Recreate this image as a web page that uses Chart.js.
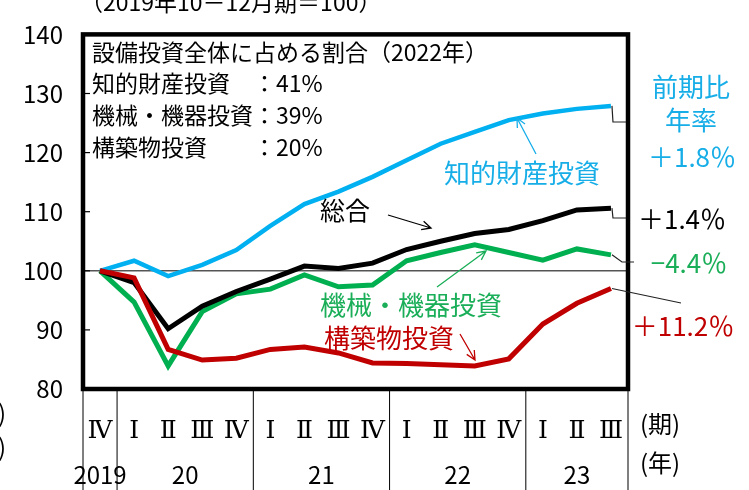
<!DOCTYPE html>
<html lang="ja">
  <head>
    <meta charset="UTF-8" />
    <title>設備投資</title>
    <script src="https://cdn.jsdelivr.net/npm/chart.js"></script>
    <style>
      html, body { margin: 0; padding: 0; background: #fff; }
      #wrap { width: 749px; height: 490px; }
    </style>
  </head>
  <body>
    <div id="wrap">
      <canvas id="capexChart" width="749" height="490"></canvas>
    </div>
    <script>
      // 2019 IV .. 2023 III, index 2019 Q4 = 100
      const quarters = ["Ⅳ", "Ⅰ", "Ⅱ", "Ⅲ", "Ⅳ", "Ⅰ", "Ⅱ", "Ⅲ", "Ⅳ", "Ⅰ", "Ⅱ", "Ⅲ", "Ⅳ", "Ⅰ", "Ⅱ", "Ⅲ"];
      const years = ["2019", "20", "21", "22", "23"];
      const yearQuarterCount = [1, 4, 4, 4, 3];
      const yTicks = [80, 90, 100, 110, 120, 130, 140];

      const intellectual = [100, 101.7, 99.1, 101.0, 103.5, 107.6, 111.3, 113.4, 115.9, 118.7, 121.5, 123.5, 125.5, 126.6, 127.4, 127.9];
      const total = [100, 98.0, 90.2, 94.0, 96.5, 98.6, 100.8, 100.4, 101.3, 103.6, 105.0, 106.3, 107.0, 108.5, 110.3, 110.6];
      const machinery = [100, 94.7, 83.9, 93.1, 96.1, 96.9, 99.3, 97.3, 97.6, 101.7, 103.1, 104.4, 103.1, 101.8, 103.7, 102.7];
      const structures = [100, 98.8, 86.7, 84.9, 85.2, 86.7, 87.1, 86.1, 84.4, 84.3, 84.1, 83.9, 85.1, 91.0, 94.5, 97.0];

      const JP = "'Noto Sans CJK JP', 'Noto Sans', sans-serif";
      const ROMAN = "'DejaVu Serif', 'Liberation Serif', serif";
      const BLUE = "#00b0f0";
      const BLUE_TXT = "#17aee8";
      const GREEN = "#00b050";
      const GREEN_TXT = "#1aae58";
      const RED = "#c00000";

      function arrow(ctx, x1, y1, x2, y2, color) {
        const a = Math.atan2(y2 - y1, x2 - x1);
        const len = 10, spread = 0.45;
        ctx.save();
        ctx.strokeStyle = color;
        ctx.lineWidth = 1.3;
        ctx.beginPath();
        ctx.moveTo(x1, y1);
        ctx.lineTo(x2, y2);
        ctx.moveTo(x2 - len * Math.cos(a - spread), y2 - len * Math.sin(a - spread));
        ctx.lineTo(x2, y2);
        ctx.lineTo(x2 - len * Math.cos(a + spread), y2 - len * Math.sin(a + spread));
        ctx.stroke();
        ctx.restore();
      }

      function text(ctx, str, x, y, size, color, align) {
        ctx.font = size + "px " + JP;
        ctx.fillStyle = color;
        ctx.textAlign = align || "left";
        ctx.textBaseline = "middle";
        ctx.fillText(str, x, y);
      }

      const decorations = {
        id: "decorations",
        afterDatasetsDraw(chart) {
          const ctx = chart.ctx;
          const area = chart.chartArea;
          const xs = chart.scales.x;
          const ys = chart.scales.y;
          const half = (xs.getPixelForValue(1) - xs.getPixelForValue(0)) / 2;

          ctx.save();
          // inner y ticks
          ctx.strokeStyle = "#000";
          ctx.lineWidth = 1.2;
          yTicks.forEach(v => {
            const y = ys.getPixelForValue(v);
            ctx.beginPath();
            ctx.moveTo(area.left, y);
            ctx.lineTo(area.left + 7, y);
            ctx.stroke();
          });

          // plot frame
          ctx.lineWidth = 4.5;
          ctx.strokeRect(area.left, area.top, area.right - area.left, area.bottom - area.top);

          // year separators under the axis
          ctx.lineWidth = 1;
          let idx = 0;
          const bounds = [area.left];
          yearQuarterCount.forEach(n => {
            idx += n;
            bounds.push(xs.getPixelForValue(idx - 1) + half);
          });
          bounds.forEach(x => {
            ctx.beginPath();
            ctx.moveTo(x, area.bottom);
            ctx.lineTo(x, 490);
            ctx.stroke();
          });
          // year labels
          idx = 0;
          years.forEach((yr, i) => {
            const n = yearQuarterCount[i];
            const cx = (xs.getPixelForValue(idx) + xs.getPixelForValue(idx + n - 1)) / 2;
            idx += n;
            text(ctx, yr, cx, 475, 24, "#000", "center");
          });
          text(ctx, "(期)", 640, 424, 24, "#000");
          text(ctx, "(年)", 640, 463, 24, "#000");
          text(ctx, ")", 6, 413, 24, "#000", "right");
          text(ctx, ")", 6, 447, 24, "#000", "right");

          // unit title (partly above the top edge)
          ctx.font = "23px " + JP;
          ctx.fillStyle = "#000";
          ctx.textAlign = "left";
          ctx.textBaseline = "alphabetic";
          ctx.fillText("（2019年10－12月期＝100）", 80, 11);

          // share box text
          text(ctx, "設備投資全体に占める割合（2022年）", 92, 52, 23, "#000");
          text(ctx, "知的財産投資　：41%", 92, 83, 23, "#000");
          text(ctx, "機械・機器投資：39%", 92, 115, 23, "#000");
          text(ctx, "構築物投資　　：20%", 92, 147, 23, "#000");

          // series labels and arrows
          text(ctx, "知的財産投資", 522, 173, 26, BLUE_TXT, "center");
          arrow(ctx, 536, 154, 517, 118, BLUE_TXT);
          text(ctx, "総合", 345, 210, 25, "#000", "center");
          arrow(ctx, 388, 215, 431, 228, "#000");
          text(ctx, "機械・機器投資", 411, 305, 26, GREEN_TXT, "center");
          arrow(ctx, 437, 287, 486, 251, GREEN_TXT);
          text(ctx, "構築物投資", 389, 338, 26, RED, "center");
          arrow(ctx, 460, 334, 475, 360, RED);

          // connectors from the last points to the growth labels
          const lastX = xs.getPixelForValue(quarters.length - 1);
          const endY = arr => ys.getPixelForValue(arr[arr.length - 1]);
          ctx.strokeStyle = "#222";
          ctx.lineWidth = 1.2;
          ctx.beginPath();
          ctx.moveTo(lastX + 1, endY(intellectual));
          ctx.lineTo(lastX + 2, 122);
          ctx.lineTo(area.right - 2, 122);
          ctx.moveTo(lastX + 1, endY(total));
          ctx.lineTo(lastX + 2, 218);
          ctx.lineTo(area.right - 2, 218);
          ctx.moveTo(lastX + 1, endY(machinery));
          ctx.lineTo(lastX + 11, 262);
          ctx.lineTo(area.right + 6, 262);
          ctx.moveTo(lastX + 1, endY(structures));
          ctx.lineTo(681, 303);
          ctx.stroke();

          text(ctx, "前期比", 691, 87, 26, BLUE_TXT, "center");
          text(ctx, "年率", 691, 120, 26, BLUE_TXT, "center");
          text(ctx, "＋1.8％", 692, 157, 26, BLUE_TXT, "center");
          text(ctx, "＋1.4％", 682, 219, 26, "#000", "center");
          text(ctx, "−4.4％", 689, 263, 26, GREEN_TXT, "center");
          text(ctx, "＋11.2％", 683, 326, 26, RED, "center");
          ctx.restore();
        },
      };

      const line = (data, color, order, width) => ({
        data: data,
        borderColor: color,
        borderWidth: width || 5,
        pointRadius: 0,
        tension: 0,
        fill: false,
        order: order,
      });

      new Chart(document.getElementById("capexChart"), {
        type: "line",
        data: {
          labels: quarters,
          datasets: [
            line(structures, RED, 0),
            line(total, "#000", 1),
            line(machinery, GREEN, 2),
            line(intellectual, BLUE, 3, 4.5),
          ],
        },
        options: {
          responsive: false,
          animation: false,
          devicePixelRatio: 1,
          layout: { padding: { top: 31, right: 121, left: 0, bottom: 0 } },
          plugins: { legend: { display: false }, tooltip: { enabled: false } },
          scales: {
            x: {
              offset: true,
              grid: { display: false },
              border: { display: false },
              ticks: {
                color: "#000",
                font: { family: ROMAN, size: 25 },
                padding: 19,
                maxRotation: 0,
                autoSkip: false,
              },
              afterFit(scale) { scale.height = 101; },
            },
            y: {
              min: 80,
              max: 140,
              border: { display: false },
              grid: {
                drawTicks: false,
                color: c => (c.tick && c.tick.value === 100 ? "#555" : "rgba(0,0,0,0)"),
                lineWidth: 1.5,
              },
              ticks: {
                stepSize: 10,
                color: "#000",
                font: { family: JP, size: 24 },
                padding: 20,
              },
              afterFit(scale) { scale.width = 83; },
            },
          },
        },
        plugins: [decorations],
      });
    </script>
  </body>
</html>
